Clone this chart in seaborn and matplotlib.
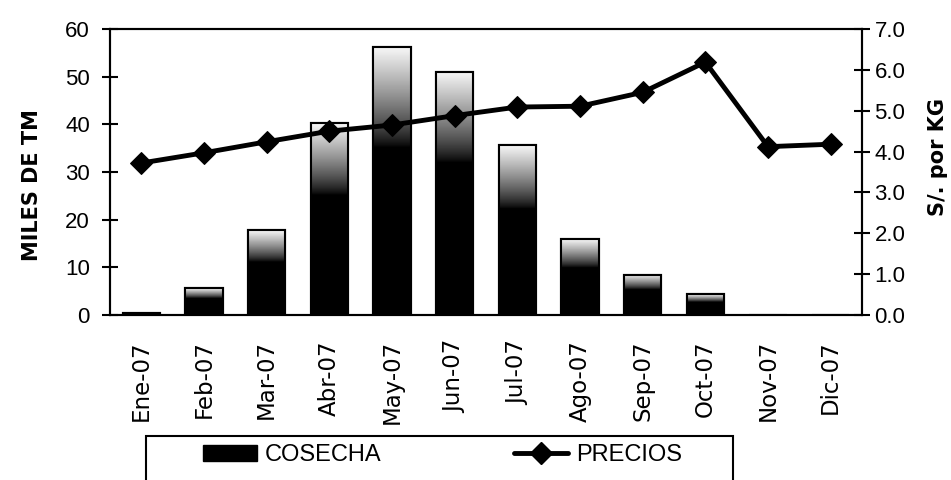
import numpy as np
import pandas as pd
import seaborn as sb
from matplotlib import pyplot as plt
from matplotlib.patches import Patch, Rectangle
from matplotlib.lines import Line2D

# datos
meses = ['Ene-07', 'Feb-07', 'Mar-07', 'Abr-07', 'May-07', 'Jun-07',
         'Jul-07', 'Ago-07', 'Sep-07', 'Oct-07', 'Nov-07', 'Dic-07']
cosecha = [0.5, 5.6, 17.8, 40.2, 56.2, 51.0, 35.6, 15.9, 8.4, 4.4, 0.0, 0.0]
precios = [3.72, 3.97, 4.24, 4.5, 4.65, 4.88, 5.09, 5.11, 5.45, 6.19, 4.12, 4.18]

df = pd.DataFrame({'mes': meses, 'cosecha': cosecha, 'precios': precios})

sb.set_style('white')
plt.rcParams['font.family'] = ['DejaVu Sans']
for k in ['text.color', 'axes.labelcolor', 'xtick.color', 'ytick.color']:
    plt.rcParams[k] = 'black'

fig = plt.figure(figsize=(9.51, 4.8), dpi=100)
ax = fig.add_axes([0.1157, 0.3437, 0.7907, 0.5959])

sb.barplot(data=df, x='mes', y='cosecha', ax=ax, color='black', width=0.6,
           edgecolor='black', linewidth=1.5, saturation=1, zorder=2)

# degradado claro arriba de cada barra
grad = np.concatenate([np.zeros(62), np.linspace(0, 0.95, 38) ** 0.8])[:, None]
for p in list(ax.patches):
    h = p.get_height()
    if h <= 0:
        continue
    x0 = p.get_x()
    w = p.get_width()
    ax.imshow(grad, extent=[x0, x0 + w, 0, h], origin='lower', aspect='auto',
              cmap='gray', vmin=0, vmax=1, zorder=2.1, interpolation='bilinear')
    ax.add_patch(Rectangle((x0, 0), w, h, fill=False, edgecolor='black',
                           linewidth=1.5, zorder=2.2))

ax.set_xlim(-0.5, len(meses) - 0.5)
ax.set_ylim(0, 60)
ax.set_yticks(range(0, 61, 10))
ax.set_xticks(np.arange(-0.5, len(meses) - 0.4, 1), minor=False)
ax.set_xticklabels([])
ax.set_xticks(range(len(meses)), minor=True)
ax.set_xticklabels(meses, minor=True, rotation=90, fontsize=16.5, va='top')
ax.tick_params(axis='x', which='minor', length=0, pad=18)
ax.tick_params(axis='x', which='major', direction='inout', length=14, width=1.5)
ax.tick_params(axis='y', direction='inout', length=11, width=1.5, pad=9,
               labelsize=16, labelfontfamily='Liberation Sans')
ax.set_xlabel('')
ax.set_ylabel('MILES DE TM', fontsize=15, fontweight='bold')
ax.yaxis.set_label_coords(-0.09, 0.455)
for s in ax.spines.values():
    s.set_linewidth(1.5)
    s.set_color('black')

ax2 = ax.twinx()
sb.lineplot(data=df, x='mes', y='precios', ax=ax2, color='black', linewidth=3.5,
            marker='D', markersize=11, markeredgecolor='black', sort=False, zorder=3)
ax2.set_ylim(0, 7)
ax2.set_yticks(np.arange(0, 7.1, 1))
ax2.set_yticklabels([f'{v:.1f}' for v in np.arange(0, 7.1, 1)])
ax2.tick_params(axis='y', direction='inout', length=12, width=1.5, pad=3,
                labelsize=16, labelfontfamily='Liberation Sans')
ax2.set_ylabel('S/. por KG', fontsize=15, fontweight='bold', rotation=90)
ax2.yaxis.set_label_coords(1.088, 0.552)
ax2.yaxis.label.set_va('top')
ax2.set_xlabel('')
for s in ax2.spines.values():
    s.set_linewidth(1.5)
    s.set_color('black')

# leyenda con recuadro abierto abajo
fig.patches.append(Rectangle((0.1535, -0.1), 0.617, 0.1917, transform=fig.transFigure,
                             fill=False, edgecolor='black', linewidth=1.5))
handles = [Patch(facecolor='black', edgecolor='black'),
           Line2D([], [], color='black', linewidth=3.5, marker='D', markersize=11)]
fig.legend(handles, ['COSECHA', 'PRECIOS'], loc='center', bbox_to_anchor=(0.4653, 0.052),
           ncol=2, frameon=False, handlelength=2.3, handletextpad=0.35, columnspacing=5.6,
           prop={'family': 'Liberation Sans', 'size': 17})

plt.savefig('out.png', dpi=100)
